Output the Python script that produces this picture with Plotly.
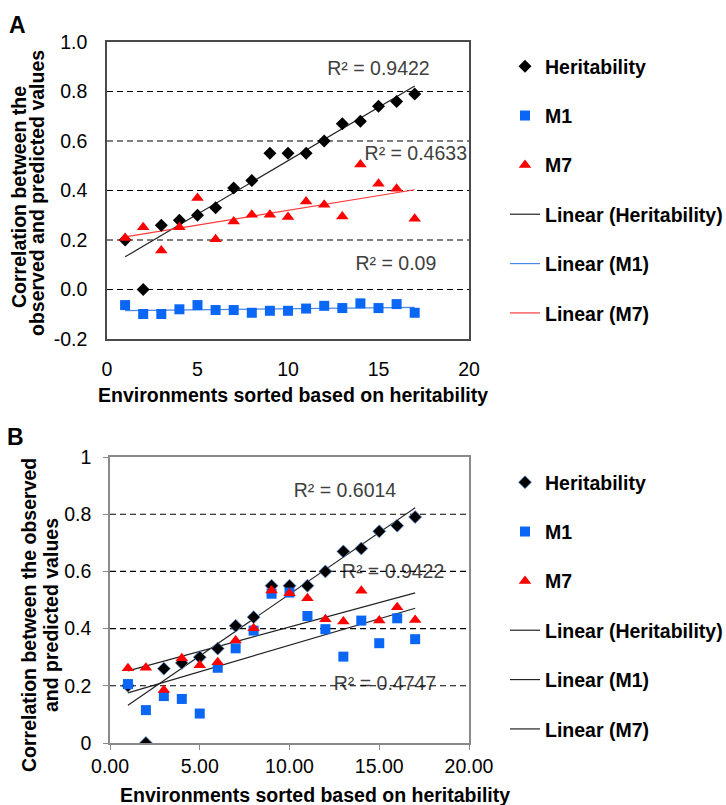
import numpy as np
import plotly.graph_objects as go

# ---------------- data ----------------
env = list(range(1, 18))
heritability = [0.20, 0.00, 0.26, 0.28, 0.30, 0.33, 0.41, 0.44, 0.55, 0.55,
                0.55, 0.60, 0.67, 0.68, 0.74, 0.76, 0.79]
a_m1 = [-0.063, -0.099, -0.099, -0.080, -0.063, -0.083, -0.083, -0.094, -0.086,
        -0.086, -0.077, -0.066, -0.075, -0.056, -0.075, -0.059, -0.094]
a_m7 = [0.208, 0.252, 0.158, 0.252, 0.370, 0.203, 0.275, 0.302, 0.302, 0.293,
        0.356, 0.342, 0.295, 0.505, 0.427, 0.407, 0.286]
b_m1 = [0.206, 0.115, 0.164, 0.154, 0.103, 0.263, 0.331, 0.393, 0.522, 0.526,
        0.444, 0.398, 0.302, 0.428, 0.349, 0.436, 0.363]
b_m7 = [0.261, 0.263, 0.185, 0.296, 0.272, 0.282, 0.358, 0.401, 0.533, 0.524,
        0.506, 0.433, 0.425, 0.532, 0.428, 0.475, 0.430]

a_r2_labels = ["R² = 0.9422", "R² = 0.4633", "R² = 0.09"]
a_r2_x = [15.0, 17.06, 15.96]
a_r2_y = [0.887, 0.543, 0.099]
b_r2_labels = ["R² = 0.6014", "R² = 0.9422", "R² = 0.4747"]
b_r2_x = [13.09, 15.77, 15.32]
b_r2_y = [0.878, 0.594, 0.203]

a_xticks = [0, 5, 10, 15, 20]
a_xticktext = ["0", "5", "10", "15", "20"]
a_yticks = [-0.2, 0.0, 0.2, 0.4, 0.6, 0.8, 1.0]
a_yticktext = ["-0.2", "0.0", "0.2", "0.4", "0.6", "0.8", "1.0"]
a_grid = [0.0, 0.2, 0.4, 0.6, 0.8]
b_xticks = [0, 5, 10, 15, 20]
b_xticktext = ["0.00", "5.00", "10.00", "15.00", "20.00"]
b_yticks = [0, 0.2, 0.4, 0.6, 0.8, 1.0]
b_yticktext = ["0", "0.2", "0.4", "0.6", "0.8", "1"]
b_grid = [0.2, 0.4, 0.6, 0.8]
x_range = [0, 20]

FONT = "Liberation Sans, Arial, sans-serif"
FS = 19.5
W, H = 726, 805
BLUE = "#0a66f5"
RED = "#ff0000"


def px(v):
    return v / W


def py(v):
    return 1 - v / H


def fit_line(x, y):
    k, b = np.polyfit(x, y, 1)
    xs = np.array([min(x), max(x)])
    return xs, k * xs + b


fig = go.Figure()


def add_panel(xa, ya, legend, m1, m7, labels, lx, ly, grid, trend_colors, herit_line):
    # R² labels (drawn first so dashed grid lines pass over them)
    fig.add_trace(go.Scatter(x=lx, y=ly, text=labels, mode="text", showlegend=False,
                             textfont=dict(family=FONT, size=FS, color="#404040"),
                             textposition="middle center", xaxis=xa, yaxis=ya,
                             hoverinfo="skip"))
    # dashed grid lines
    for g in grid:
        fig.add_trace(go.Scatter(x=x_range, y=[g, g], mode="lines", showlegend=False,
                                 line=dict(color="black", width=1.1, dash="6px,4px"),
                                 xaxis=xa, yaxis=ya, hoverinfo="skip"))
    # trend lines
    names = ["Linear (Heritability)", "Linear (M1)", "Linear (M7)"]
    for i, (ys, nm, col) in enumerate(zip([heritability, m1, m7], names, trend_colors)):
        fx, fy = fit_line(env, ys)
        fig.add_trace(go.Scatter(x=fx, y=fy, mode="lines", name=nm,
                                 line=dict(color=col, width=1.2),
                                 xaxis=xa, yaxis=ya, legend=legend,
                                 legendgroup=legend + nm, legendrank=4 + i))
    # markers
    fig.add_trace(go.Scatter(x=env, y=heritability, mode="markers", name="Heritability",
                             marker=dict(symbol="diamond", size=10, color="black",
                                         line=herit_line),
                             xaxis=xa, yaxis=ya, legend=legend,
                             legendgroup=legend + "h", legendrank=1))
    fig.add_trace(go.Scatter(x=env, y=m1, mode="markers", name="M1",
                             marker=dict(symbol="square", size=10, color=BLUE, line=dict(width=0)),
                             xaxis=xa, yaxis=ya, legend=legend,
                             legendgroup=legend + "m1", legendrank=2))
    fig.add_trace(go.Scatter(x=env, y=m7, mode="markers", name="M7",
                             marker=dict(symbol="triangle-up", size=11, color=RED, line=dict(width=0)),
                             xaxis=xa, yaxis=ya, legend=legend,
                             legendgroup=legend + "m7", legendrank=3))


add_panel("x", "y", "legend", a_m1, a_m7, a_r2_labels, a_r2_x, a_r2_y, a_grid,
          ["#222222", "#4a86e8", "#ff3b3b"], dict(width=0))
add_panel("x2", "y2", "legend2", b_m1, b_m7, b_r2_labels, b_r2_x, b_r2_y, b_grid,
          ["#222222", "#222222", "#222222"], dict(width=0.8, color="#6a9be0"))

tickfont = dict(family=FONT, size=FS, color="black")
legfont = dict(family=FONT, size=FS, color="black", weight="bold")

fig.update_layout(
    width=W, height=H, autosize=False,
    margin=dict(l=0, r=0, t=0, b=0, pad=0, autoexpand=False),
    paper_bgcolor="white", plot_bgcolor="white",
    xaxis=dict(domain=[px(107), px(469)], range=x_range, tickvals=a_xticks,
               ticktext=a_xticktext, showgrid=False, zeroline=False, showline=True,
               mirror=True, linecolor="#4a4a4a", linewidth=1.5, ticks="",
               tickfont=tickfont, ticklabelstandoff=12, anchor="y", automargin=False),
    yaxis=dict(domain=[py(339), py(42)], range=[-0.2, 1.0], tickvals=a_yticks,
               ticktext=a_yticktext, showgrid=False, zeroline=False, showline=True,
               mirror=True, linecolor="#4a4a4a", linewidth=1.5, ticks="",
               tickfont=tickfont, ticklabelstandoff=14, anchor="x", automargin=False),
    xaxis2=dict(domain=[px(110), px(469)], range=x_range, tickvals=b_xticks,
                ticktext=b_xticktext, showgrid=False, zeroline=False, showline=True,
                mirror=True, linecolor="#8a8a8a", linewidth=1.5, ticks="outside",
                ticklen=5, tickcolor="#8a8a8a", tickfont=tickfont,
                ticklabelstandoff=0, anchor="y2", automargin=False),
    yaxis2=dict(domain=[py(743), py(457)], range=[0, 1.0], tickvals=b_yticks,
                ticktext=b_yticktext, showgrid=False, zeroline=False, showline=True,
                mirror=True, linecolor="#8a8a8a", linewidth=1.5, ticks="outside",
                ticklen=5, tickcolor="#8a8a8a", tickfont=tickfont,
                ticklabelstandoff=8, anchor="x2", automargin=False),
    legend=dict(x=px(505), y=py(47), xanchor="left", yanchor="top",
                font=legfont, tracegroupgap=21, itemsizing="trace",
                bgcolor="rgba(0,0,0,0)"),
    legend2=dict(x=px(505), y=py(463), xanchor="left", yanchor="top",
                 font=legfont, tracegroupgap=21, itemsizing="trace",
                 bgcolor="rgba(0,0,0,0)"),
    showlegend=True,
)

bold = dict(family=FONT, size=FS, color="black", weight="bold")
letter = dict(family=FONT, size=23, color="black", weight="bold")
annotations = [
    dict(text="A", x=px(17), y=py(25), font=letter),
    dict(text="B", x=px(15), y=py(437), font=letter),
    dict(text="Environments sorted based on heritability", x=px(293), y=py(395), font=bold),
    dict(text="Environments sorted based on heritability", x=px(315), y=py(795), font=bold),
    dict(text="Correlation between the", x=px(19), y=py(197), textangle=-90, font=bold),
    dict(text="observed and predicted values", x=px(37), y=py(193), textangle=-90, font=bold),
    dict(text="Correlation between the observed", x=px(29), y=py(615), textangle=-90, font=bold),
    dict(text="and predicted values", x=px(51), y=py(615), textangle=-90, font=bold),
]
for a in annotations:
    a.update(xref="paper", yref="paper", showarrow=False, xanchor="center", yanchor="middle")
fig.update_layout(annotations=annotations)

fig.write_html("out.html")
